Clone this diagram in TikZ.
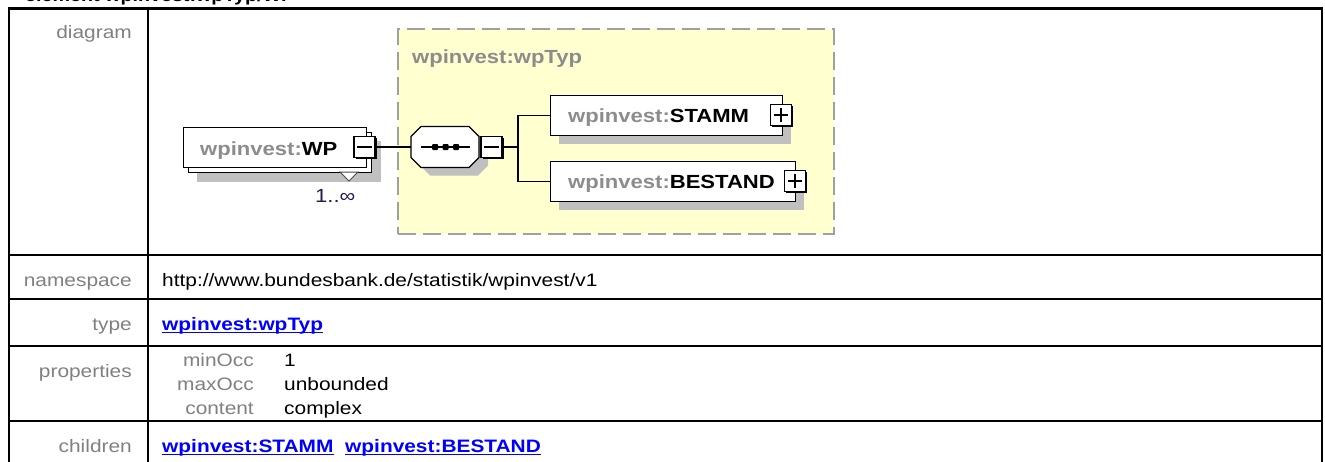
\documentclass[tikz,border=0pt]{standalone}
\usepackage{fontspec}
\setmainfont{Liberation Sans}[FakeStretch=1.16]
\usetikzlibrary{shadows}
\definecolor{lblgrey}{RGB}{128,128,128}
\definecolor{nsgrey}{RGB}{140,140,140}
\definecolor{linkblue}{RGB}{0,0,255}
\definecolor{ylw}{RGB}{255,255,208}
\definecolor{shadowgrey}{RGB}{192,192,192}
\definecolor{dashgrey}{RGB}{160,160,160}
\definecolor{occblue}{RGB}{30,30,80}
\begin{document}
\begin{tikzpicture}[x=1pt,y=-1pt,
  tbl/.style={line width=2.5pt, draw=black},
  tlabel/.style={font=\fontsize{18}{22}\selectfont, text=lblgrey, inner sep=0, anchor=base east},
  tval/.style={font=\fontsize{18}{22}\selectfont, text=black, inner sep=0, anchor=base west},
  tlink/.style={font=\bfseries\fontsize{18}{22}\selectfont, text=linkblue, inner sep=0, anchor=base west},
  uline/.style={draw=linkblue, line width=1.4pt},
  dname/.style={font=\bfseries\fontsize{19}{22}\selectfont, text=black, inner sep=0, anchor=base west},
  elbox/.style={draw=black, line width=1.3pt, fill=white, inner sep=0, anchor=north west, minimum height=40pt},
  elshadow/.style={drop shadow={shadow xshift=8pt, shadow yshift=-8pt, fill=shadowgrey, opacity=1}},
  pmbox/.style={draw=black, line width=1.2pt, fill=white, minimum size=21pt, inner sep=0,
    drop shadow={shadow xshift=1.6pt, shadow yshift=-1.6pt, fill=black, opacity=1}},
  pmline/.style={line width=1.3pt, draw=black},
  conn/.style={line width=1.3pt, draw=black},
  typebox/.style={draw=dashgrey, line width=1.8pt, dash pattern=on 18pt off 7pt, fill=ylw, inner sep=0, anchor=north west}
]
\useasboundingbox (0,0) rectangle (1325,461);

% ---- title (cut off at top) ----
\node[font=\bfseries\fontsize{17}{20}\selectfont, inner sep=0, anchor=base west] (title) at (25,1) {element wpinvest:wpTyp/WP};

% ---- table ----
\draw[tbl] (9,470) -- (9,8.5) -- (1322,8.5) -- (1322,470);
\draw[tbl] (148,8.5) -- (148,470);
\draw[tbl] (9,255) -- (1322,255);
\draw[tbl] (9,299) -- (1322,299);
\draw[tbl] (9,346) -- (1322,346);
\draw[tbl] (9,421) -- (1322,421);

\node[tlabel] (lbldiagram) at (132,38) {diagram};
\node[tlabel] (lblns) at (132,286) {namespace};
\node[tlabel] (lbltype) at (132,330) {type};
\node[tlabel] (lblprops) at (132,377) {properties};
\node[tlabel] (lblchildren) at (132,452) {children};

\node[tval] (nsval) at (162,286) {http://www.bundesbank.de/statistik/wpinvest/v1};
\node[tlink] (typelink) at (162,330) {wpinvest:wpTyp};
\draw[uline] ([yshift=-2.6pt]typelink.base west) -- ([yshift=-2.6pt]typelink.base east);

\node[tlabel] (minocc) at (254,366) {minOcc};
\node[tval] (minoccv) at (284,366) {1};
\node[tlabel] (maxocc) at (254,390) {maxOcc};
\node[tval] (maxoccv) at (284,390) {unbounded};
\node[tlabel] (content) at (254,414) {content};
\node[tval] (contentv) at (284,414) {complex};

\node[tlink] (chstamm) at (162,452) {wpinvest:STAMM};
\draw[uline] ([yshift=-2.6pt]chstamm.base west) -- ([yshift=-2.6pt]chstamm.base east);
\node[tlink] (chbestand) at (345,452) {wpinvest:BESTAND};
\draw[uline] ([yshift=-2.6pt]chbestand.base west) -- ([yshift=-2.6pt]chbestand.base east);

% ---- diagram: complex type region ----
\node[typebox, minimum width=436pt, minimum height=205pt] (wptyp) at (397,28) {};
\node[dname, text=nsgrey] (wptyplbl) at (412,63) {wpinvest:wpTyp};

% ---- element WP (multiple) ----
\fill[shadowgrey] (197,141) rectangle (381,182);
\node[elbox, minimum width=183pt] (wpback) at (188,132) {};
\node[elbox, minimum width=183pt] (wp) at (183,127) {};
\filldraw[fill=white, draw=black!70, line width=1pt] (340,172) -- (358,172) -- (349,181) -- cycle;
\node[dname] (wptxt) at (200,155) {{\color{nsgrey}wpinvest:}WP};
\node[pmbox] (wpm) at (364.5,147) {};
\draw[pmline] ([xshift=4pt]wpm.west) -- ([xshift=-4pt]wpm.east);
\node[font=\fontsize{19}{22}\selectfont, text=occblue, inner sep=0, anchor=base west] (wpocc) at (315,202) {1..∞};

% ---- sequence compositor ----
\node[inner sep=0, minimum width=68pt, minimum height=41pt] (seq) at (445,147) {};
\fill[shadowgrey] (430,134.5) -- (478,134.5) -- (488,144.5) -- (488,165.5) -- (478,175.5) -- (430,175.5) -- (420,165.5) -- (420,144.5) -- cycle;
\filldraw[fill=white, draw=black, line width=1.3pt] (421,126.5) -- (469,126.5) -- (479,136.5) -- (479,157.5) -- (469,167.5) -- (421,167.5) -- (411,157.5) -- (411,136.5) -- cycle;
\draw[line width=1.3pt] (421,147) -- (470,147);
\fill[rounded corners=1pt] (432,144) rectangle (438,150);
\fill[rounded corners=1pt] (442.5,144) rectangle (448.5,150);
\fill[rounded corners=1pt] (453,144) rectangle (459,150);
\node[pmbox] (seqm) at (491.5,147) {};
\draw[pmline] ([xshift=4pt]seqm.west) -- ([xshift=-4pt]seqm.east);

% ---- child elements ----
\node[elbox, elshadow, minimum width=232pt] (stamm) at (550,95) {};
\node[elbox, elshadow, minimum width=245pt] (bestand) at (550,161) {};
\node[dname] (stammtxt) at (568,122) {{\color{nsgrey}wpinvest:}STAMM};
\node[dname] (bestandtxt) at (568,188) {{\color{nsgrey}wpinvest:}BESTAND};
\node[pmbox] (stammp) at (781,115) {};
\draw[pmline] ([xshift=4pt]stammp.west) -- ([xshift=-4pt]stammp.east);
\draw[pmline] ([yshift=-4pt]stammp.north) -- ([yshift=4pt]stammp.south);
\node[pmbox] (bestandp) at (795,181) {};
\draw[pmline] ([xshift=4pt]bestandp.west) -- ([xshift=-4pt]bestandp.east);
\draw[pmline] ([yshift=-4pt]bestandp.north) -- ([yshift=4pt]bestandp.south);

% ---- connectors ----
\draw[conn] (wpm.east) -- (seq.west);
\coordinate (fork) at (518,147);
\draw[conn] (seqm.east) -- (fork);
\draw[conn] (stamm.west) -| (fork);
\draw[conn] (bestand.west) -| (fork);
\end{tikzpicture}
\end{document}
